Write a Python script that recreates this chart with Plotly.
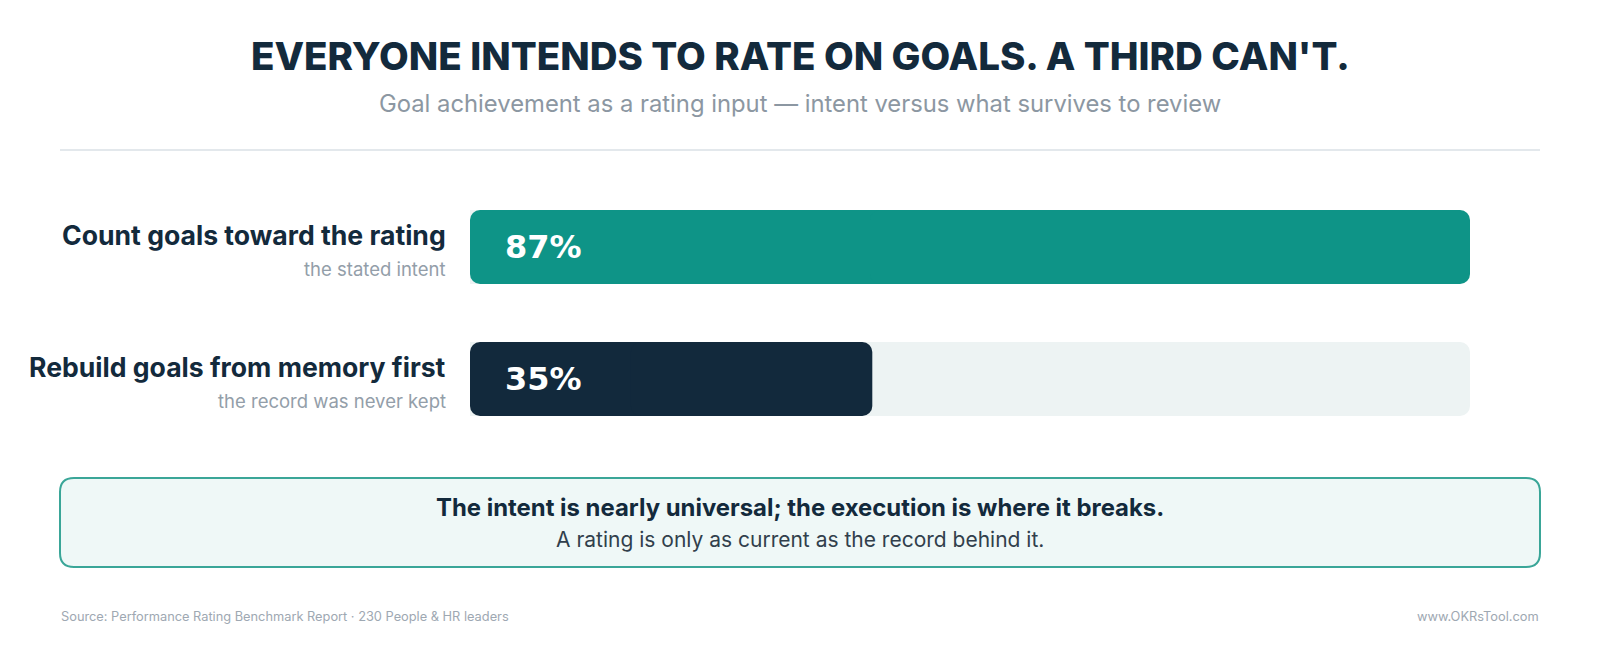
import plotly.graph_objects as go

# data
categories = ["Count goals toward the rating", "Rebuild goals from memory first"]
notes = ["the stated intent", "the record was never kept"]
values = [87, 35]
bar_colors = ["#0e9487", "#12293c"]

title = "EVERYONE INTENDS TO RATE ON GOALS. A THIRD CAN'T."
subtitle = "Goal achievement as a rating input \u2014 intent versus what survives to review"
callout_head = "The intent is nearly universal; the execution is where it breaks."
callout_body = "A rating is only as current as the record behind it."
source = "Source: Performance Rating Benchmark Report \u00b7 230 People & HR leaders"
site = "www.OKRsTool.com"

# the page body adds an 8px margin, so work in screen pixels and shift back
OFF = 8
W, H = 1600, 648
L, R, T, B = 470 - OFF, 138, 181 - OFF, 211
PW, PH = W - L - R, H - T - B
BAR_W = 74 / 132  # bar thickness in category units, lands on whole pixels


def px(x):
    return (x - OFF - L) / PW


def py(y):
    return (H - B - (y - OFF)) / PH


track = [max(values)] * len(values)

fig = go.Figure()
# background track, rounded at the far end
fig.add_trace(go.Bar(
    y=categories, x=track, orientation="h", width=BAR_W,
    marker=dict(color="#edf3f3", line=dict(width=0)),
    hoverinfo="skip", showlegend=False,
))
# each bar drawn as two overlapping halves so both ends get rounded corners
fig.add_trace(go.Bar(
    y=categories, x=[-v * 0.6 for v in values], base=[v * 0.6 for v in values],
    orientation="h", width=BAR_W,
    marker=dict(color=bar_colors, line=dict(width=0)),
    hoverinfo="skip", showlegend=False,
))
fig.add_trace(go.Bar(
    y=categories, x=[v * 0.6 for v in values], base=[v * 0.4 for v in values],
    orientation="h", width=BAR_W,
    marker=dict(color=bar_colors, line=dict(width=0)),
    hoverinfo="skip", showlegend=False,
))

ann = []
for cat, note, v in zip(categories, notes, values):
    ann.append(dict(x=px(448), y=cat, xref="paper", yref="y", text="<b>" + cat + "</b>",
                    xanchor="right", yanchor="middle", yshift=12, showarrow=False,
                    font=dict(family="Inter", size=26.6, color="#132a3c")))
    ann.append(dict(x=px(448), y=cat, xref="paper", yref="y", text=note,
                    xanchor="right", yanchor="middle", yshift=-22, showarrow=False,
                    font=dict(family="Inter", size=18.5, color="#939ea9")))
    ann.append(dict(x=0, y=cat, xref="x", yref="y", text="<b>%d%%</b>" % v,
                    xanchor="left", yanchor="middle", xshift=33, showarrow=False,
                    font=dict(family="DejaVu Sans", size=32, color="#ffffff")))

# headings
ann.append(dict(x=px(800), y=py(56), xref="paper", yref="paper", text=title,
                xanchor="center", yanchor="middle", showarrow=False,
                font=dict(family="Inter", size=38.5, color="#132a3c", weight=800)))
ann.append(dict(x=px(800), y=py(104), xref="paper", yref="paper", text=subtitle,
                xanchor="center", yanchor="middle", showarrow=False,
                font=dict(family="Inter", size=23.8, color="#8c97a2")))
# callout
ann.append(dict(x=px(800), y=py(507), xref="paper", yref="paper", text="<b>" + callout_head + "</b>",
                xanchor="center", yanchor="middle", showarrow=False,
                font=dict(family="Inter", size=23.9, color="#132a3c")))
ann.append(dict(x=px(800), y=py(539), xref="paper", yref="paper", text=callout_body,
                xanchor="center", yanchor="middle", showarrow=False,
                font=dict(family="Inter", size=21, color="#313f4c")))
# footer
ann.append(dict(x=px(59), y=py(616), xref="paper", yref="paper", text=source,
                xanchor="left", yanchor="middle", showarrow=False,
                font=dict(family="Inter", size=12.8, color="#9ea8b2")))
ann.append(dict(x=px(1541), y=py(616), xref="paper", yref="paper", text=site,
                xanchor="right", yanchor="middle", showarrow=False,
                font=dict(family="Inter", size=12.8, color="#9ea8b2")))

# rounded callout box path
x0, x1, y0, y1, r = 60, 1540, 478, 567, 14
pts = [
    ("M", [(x0 + r, y0)]), ("L", [(x1 - r, y0)]), ("Q", [(x1, y0), (x1, y0 + r)]),
    ("L", [(x1, y1 - r)]), ("Q", [(x1, y1), (x1 - r, y1)]), ("L", [(x0 + r, y1)]),
    ("Q", [(x0, y1), (x0, y1 - r)]), ("L", [(x0, y0 + r)]), ("Q", [(x0, y0), (x0 + r, y0)]),
]
path = " ".join(c + " " + " ".join("%.5f,%.5f" % (px(a), py(b)) for a, b in p) for c, p in pts) + " Z"

shapes = [
    dict(type="line", xref="paper", yref="paper", x0=px(60), x1=px(1540), y0=py(150), y1=py(150),
         line=dict(color="#e3e8ec", width=2)),
    dict(type="path", xref="paper", yref="paper", path=path,
         fillcolor="#eff8f7", line=dict(color="#3aa698", width=2), layer="below"),
]

fig.update_layout(
    width=W, height=H,
    margin=dict(l=L, r=R, t=T, b=B),
    paper_bgcolor="#ffffff", plot_bgcolor="#ffffff",
    barmode="overlay", barcornerradius=10,
    xaxis=dict(range=[0, max(values)], visible=False, fixedrange=True),
    yaxis=dict(categoryorder="array", categoryarray=categories, range=[1.5, -0.5],
               visible=False, fixedrange=True),
    annotations=ann, shapes=shapes,
    showlegend=False,
)

fig.write_html("out.html", config={"displayModeBar": False})
